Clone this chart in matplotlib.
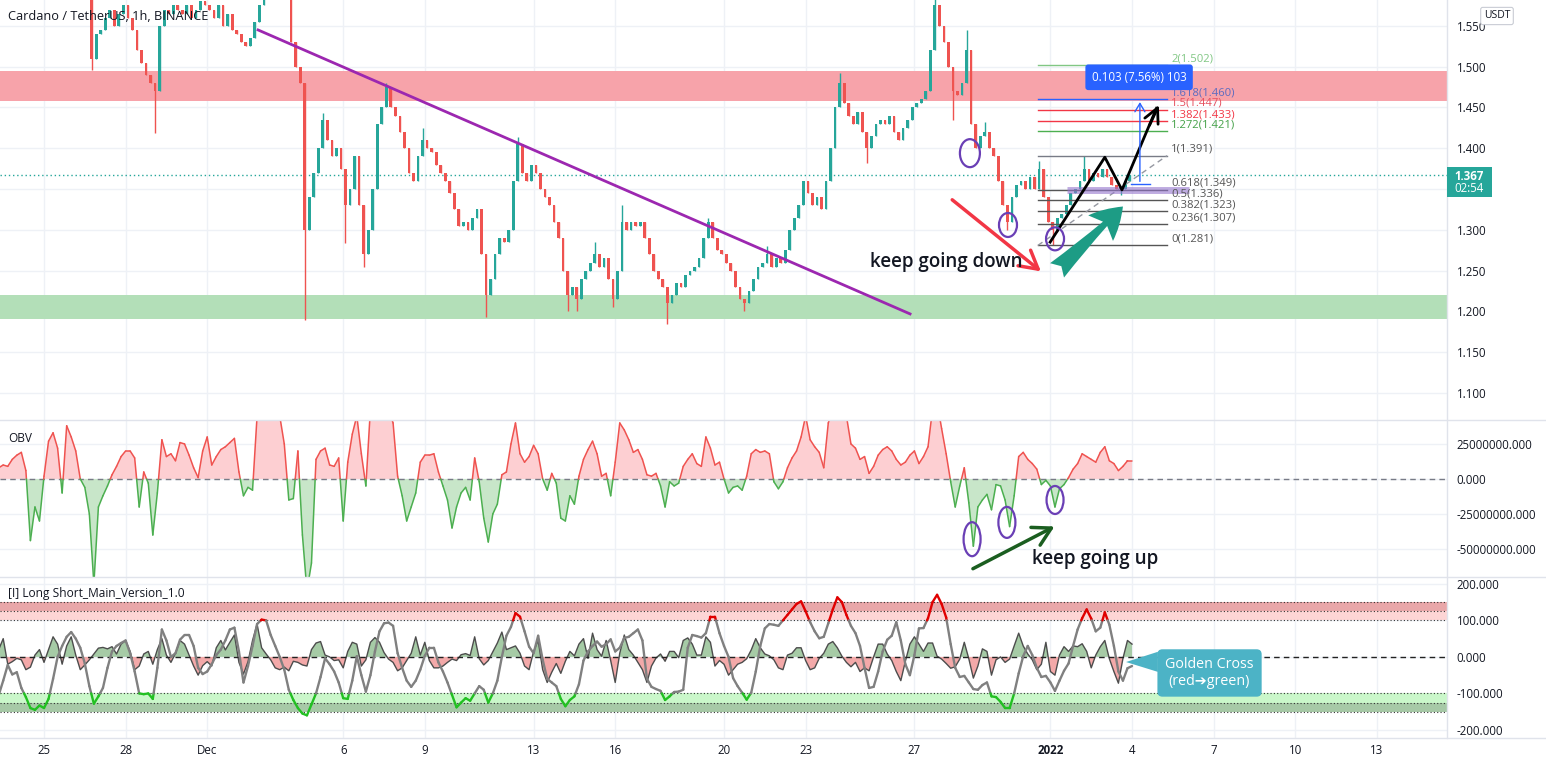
import numpy as np
import matplotlib.pyplot as plt
from matplotlib.patches import Ellipse, Polygon, Rectangle
from matplotlib.collections import LineCollection
from matplotlib.lines import Line2D

plt.rcParams['font.family'] = ['Open Sans', 'DejaVu Sans']

### Data (4h steps, one row per day, first row = Nov 23, day 0 = Nov 25)
closes = [
    1.62, 1.63, 1.64, 1.62, 1.63, 1.65,
    1.64, 1.63, 1.62, 1.61, 1.60, 1.62,
    1.63, 1.65, 1.66, 1.64, 1.66, 1.67,
    1.66, 1.65, 1.63, 1.60, 1.51, 1.54,
    1.545, 1.56, 1.57, 1.55, 1.565, 1.575,
    1.56, 1.545, 1.52, 1.505, 1.49, 1.48,
    1.47, 1.55, 1.57, 1.565, 1.575, 1.57,
    1.565, 1.575, 1.56, 1.57, 1.58, 1.575,
    1.57, 1.56, 1.575, 1.55, 1.565, 1.545,
    1.54, 1.53, 1.525, 1.535, 1.555, 1.575,
    1.59, 1.60, 1.61, 1.60, 1.59, 1.585,
    1.53, 1.50, 1.48, 1.30, 1.34, 1.37,
    1.40, 1.435, 1.41, 1.39, 1.40, 1.375,
    1.33, 1.35, 1.39, 1.33, 1.27, 1.30,
    1.35, 1.43, 1.45, 1.475, 1.45, 1.44,
    1.42, 1.40, 1.37, 1.36, 1.39, 1.41,
    1.40, 1.395, 1.38, 1.37, 1.36, 1.345,
    1.325, 1.305, 1.31, 1.30, 1.315, 1.325,
    1.27, 1.22, 1.24, 1.27, 1.29, 1.285,
    1.30, 1.36, 1.405, 1.37, 1.36, 1.38,
    1.37, 1.35, 1.34, 1.33, 1.31, 1.29,
    1.25, 1.22, 1.23, 1.215, 1.24, 1.25,
    1.26, 1.27, 1.255, 1.265, 1.24, 1.215,
    1.25, 1.31, 1.30, 1.31, 1.305, 1.31,
    1.29, 1.27, 1.25, 1.24, 1.23, 1.21,
    1.22, 1.235, 1.23, 1.245, 1.25, 1.255,
    1.265, 1.29, 1.31, 1.29, 1.275, 1.27,
    1.26, 1.25, 1.23, 1.215, 1.21, 1.225,
    1.24, 1.255, 1.26, 1.27, 1.255, 1.265,
    1.26, 1.275, 1.30, 1.315, 1.33, 1.36,
    1.345, 1.33, 1.34, 1.325, 1.36, 1.40,
    1.45, 1.48, 1.455, 1.44, 1.43, 1.445,
    1.42, 1.40, 1.415, 1.43, 1.435, 1.43,
    1.44, 1.42, 1.41, 1.425, 1.435, 1.45,
    1.455, 1.46, 1.47, 1.52, 1.575, 1.55,
    1.53, 1.50, 1.47, 1.465, 1.48, 1.52,
    1.43, 1.40, 1.415, 1.42, 1.40, 1.39,
    1.36, 1.33, 1.31, 1.34, 1.355, 1.36,
    1.35, 1.365, 1.35, 1.375, 1.34, 1.31,
    1.30, 1.315, 1.32, 1.33, 1.345, 1.35,
    1.36, 1.375, 1.36, 1.37, 1.365, 1.375,
    1.365, 1.355, 1.35, 1.35, 1.36, 1.367,
]
# long wicks (candle index -> price)
wick_highs = {66: 1.59, 73: 1.443, 87: 1.48, 95: 1.425, 116: 1.414, 133: 1.285,
              139: 1.33, 158: 1.315, 171: 1.28, 187: 1.492, 208: 1.59, 215: 1.545,
              219: 1.432, 231: 1.385, 241: 1.391}
wick_lows = {22: 1.496, 36: 1.419, 69: 1.19, 78: 1.284, 82: 1.255, 109: 1.193,
             127: 1.20, 129: 1.20, 137: 1.205, 149: 1.185, 166: 1.20, 193: 1.382,
             212: 1.435, 224: 1.30, 234: 1.281, 249: 1.343}

# OBV oscillator, millions
obv_m = [
    5, 8, 10, 9, 14, 17,
    19, 6, -44, -20, -30, 2,
    27, 33, 22, -10, 38, 30,
    20, 0, -6, -25, -75, -20,
    -12, -5, 3, 9, 16, 20,
    20, 15, -20, 5, -3, -40,
    -10, 28, 16, 18, 13, 26,
    25, 17, 8, 1, 20, 30,
    10, 16, 21, 23, 26, 29,
    5, -12, -6, -8, 45, 50,
    55, 55, 50, 45, 25, -15,
    -14, 20, -40, -80, -60, 14,
    20, 22, 10, 9, 15, -30,
    12, 32, 45, 18, -5, 50,
    55, 60, 55, 50, 40, 2,
    -12, -30, -20, -10, 12, 17,
    17, 18, 5, -5, -15, -35,
    -20, -10, -6, -15, 15, -2,
    -28, -45, -25, -18, 3, 5,
    25, 40, 18, 12, 16, 24,
    18, 0, -8, 4, -3, -28,
    -30, -12, -18, 2, 14, 21,
    27, 18, 2, 4, -12, 12,
    40, 35, 28, 19, 21, 14,
    3, 2, 4, -5, -20, -2,
    -5, -3, 9, 14, 18, 11,
    9, 30, 22, 10, 12, 0,
    -10, -6, -5, -8, 2, 18,
    21, 19, 20, 18, -2, -7,
    -2, 8, 15, 20, 30, 45,
    28, 23, 19, 8, 40, 50,
    55, 55, 45, 25, 22, 14,
    16, 4, 9, 17, 21, 23,
    20, 14, 10, 12, 17, 20,
    11, 16, 23, 50, 55, 36,
    18, -2, -20, -5, 8, -17,
    -48, -20, -15, -11, -22, -4,
    -5, -15, -34, -12, 16, 19,
    14, 11, 7, -4, -1, -5,
    -20, -7, -4, 1, 7, 11,
    18, 16, 14, 12, 19, 23,
    13, 11, 6, 9, 13, 13,
]

# Long Short indicator: histogram area and oscillator line
ls_hist = [
    10, 20, 50, -20, -13, -4,
    -8, -35, -28, 5, 20, -15,
    20, 55, 35, -20, 30, 55,
    5, -35, -22, -8, 8, 24,
    26, 22, 28, 8, 35, 45,
    15, -35, -25, 8, 15, -20,
    20, 50, 5, -15, 10, 45,
    35, 5, -25, -50, -24, -13,
    -25, 25, 45, 19, 40, 60,
    -15, -47, -13, 45, 90, 25,
    8, -8, -30, -35, -28, -38,
    -12, -15, -22, -25, 20, 38,
    42, 5, 0, -10, -8, -30,
    15, 40, 35, -25, -8, 40,
    53, 40, 12, -6, -15, -38,
    -30, -10, 10, 55, 5, 40,
    -10, -30, -30, -25, -15, -6,
    -10, 6, 9, 4, 55, -5,
    -22, -10, 14, 38, 68, 20,
    25, 30, 10, -25, -35, 15,
    45, -35, -70, -42, -18, -45,
    -12, 15, 3, 35, 50, -4,
    65, 20, 2, 45, -10, -70,
    10, 60, 20, 5, -15, -35,
    -70, -25, -3, 8, -12, 15,
    15, -2, 45, 52, 35, 5,
    5, 55, 40, -25, -10, -20,
    -50, -35, -20, -15, -5, 19,
    50, 25, 8, 3, -8, -30,
    -35, 5, 10, 25, 25, -10,
    -35, -30, -4, 10, 35, 42,
    25, 2, -15, -27, -15, -40,
    -30, -38, 0, 35, 35, 8,
    -10, -40, -65, -12, 35, 55,
    35, 15, 38, 38, 2, -6,
    -18, -31, -27, -6, 40, -5,
    -58, -25, 22, 15, -50, -8,
    0, -15, -6, 30, 65, 30,
    8, -8, -35, -20, 40, -40,
    -50, 5, 28, 15, 30, 28,
    36, 15, -30, 5, 28, 45,
    -5, -40, -72, -4, 45, 35,
]
ls_osc = [
    -115, -105, -65, -22, -48, -42,
    -85, -110, -140, -145, -133, -140,
    -115, -60, 0, 30, 55, 68,
    50, 25, -18, -80, -128, -108,
    -85, -30, 15, 30, 38, 45,
    10, -40, -100, -102, -100, -115,
    -30, 75, 45, 0, 10, 47,
    60, 60, 30, -30, -47, -40,
    -20, 5, 20, 45, 75, 80,
    15, -70, -25, 30, 90, 102,
    100, 60, 30, 0, -35, -90,
    -118, -140, -155, -160, -130, -100,
    -55, -4, -20, -40, -70, -113,
    -115, -65, 2, -50, -95, -50,
    15, 70, 92, 94, 85, 10,
    -30, -65, -82, -65, -35, 3,
    25, 25, -15, -40, -70, -104,
    -138, -125, -113, -120, -100, -80,
    -90, -125, -100, -65, 0, 58,
    82, 120, 110, 70, 28, 10,
    58, -8, -60, -70, -80, -115,
    -135, -118, -108, -75, -10, 15,
    30, 42, 28, 35, 48, 15,
    25, 52, 55, 65, 75, 45,
    -60, -82, -88, -93, -118, -108,
    -96, -95, -90, 25, 60, 57,
    53, 65, 110, 110, 65, 30,
    0, -58, -80, -98, -117, -98,
    -40, 30, 78, 90, 88, 85,
    100, 115, 130, 145, 152, 125,
    95, 70, 51, 55, 92, 130,
    163, 150, 115, 85, 65, 30,
    -30, -85, -82, -40, 15, 47,
    58, 95, 45, -20, -50, 5,
    78, 79, 106, 150, 170, 145,
    108, 35, -30, -55, -52, -70,
    -88, -90, -77, -70, -108, -110,
    -123, -140, -140, -100, -45, 2,
    30, 5, -30, -55, -52, -70,
    -93, -65, -38, -18, 30, 75,
    106, 130, 105, 70, 80, 122,
    88, 30, -40, -65, -31, -25,
]

tick_days = [0, 3, 6, 11, 14, 18, 21, 25, 28, 32, 37, 40, 43, 46, 49]
tick_labels = ['25', '28', 'Dec', '6', '9', '13', '16', '20', '23', '27', '2022', '4', '7', '10', '13']
price_ticks = [1.10, 1.15, 1.20, 1.25, 1.30, 1.35, 1.40, 1.45, 1.50, 1.55]
obv_ticks = [-50e6, -25e6, 0, 25e6]
ls_ticks = [-200, -100, 0, 100, 200]

fib_names = ['2', '1.618', '1.5', '1.382', '1.272', '1', '0.618', '0.5', '0.382', '0.236', '0']
fib_prices = [1.502, 1.460, 1.447, 1.433, 1.421, 1.391, 1.349, 1.336, 1.323, 1.307, 1.281]
fib_colors = ['#81c784', '#2962ff', '#f23645', '#f23645', '#4caf50', '#787b86',
              '#555555', '#555555', '#555555', '#555555', '#555555']
fib_text_colors = ['#81c784', '#5c6bc0', '#e5505f', '#f23645', '#43a047', '#555555',
                   '#555555', '#555555', '#555555', '#555555', '#555555']
last_price = 1.367

### Figure layout (pixel boxes)
W, H = 1546, 760
fig = plt.figure(figsize=(W / 100, H / 100), dpi=100)
fig.patch.set_facecolor('white')


def pix_axes(x0, y0, x1, y1):
    return fig.add_axes([x0 / W, 1 - y1 / H, (x1 - x0) / W, (y1 - y0) / H])


ax = pix_axes(0, 0, 1447, 420)
ax_obv = pix_axes(0, 421, 1447, 577)
ax_ls = pix_axes(0, 578, 1447, 738)

for a in (ax, ax_obv, ax_ls):
    a.set_xlim(-1.618, 51.58)
    for s in a.spines.values():
        s.set_visible(False)
    a.yaxis.tick_right()
    a.tick_params(axis='y', length=0, pad=7, labelsize=8.3, labelcolor='#131722')
    a.tick_params(axis='x', length=0, labelsize=8.3, labelcolor='#131722', pad=4)
    a.set_xticks(tick_days)
    a.grid(True, color='#eef1f6', lw=1)
    a.set_axisbelow(True)
ax.set_xticklabels([])
ax_obv.set_xticklabels([])
ax_ls.set_xticklabels(tick_labels)
for lab in ax_ls.get_xticklabels():
    if lab.get_text() == '2022':
        lab.set_fontweight('bold')

for y in (420, 577, 738):
    fig.add_artist(Line2D([0, 1], [1 - y / H] * 2, transform=fig.transFigure, color='#e0e3eb', lw=1))
fig.add_artist(Line2D([1447 / W] * 2, [1 - 738 / H, 1], transform=fig.transFigure, color='#e0e3eb', lw=1))


def refine(t, v, levels):
    # insert the points where the series crosses each level
    rt, rv = [t[0]], [v[0]]
    for i in range(1, len(t)):
        a, b = v[i - 1], v[i]
        cuts = sorted(t[i - 1] + (L - a) / (b - a) * (t[i] - t[i - 1])
                      for L in levels if (a - L) * (b - L) < 0)
        for c in cuts:
            rt.append(c)
            rv.append(a + (b - a) * (c - t[i - 1]) / (t[i] - t[i - 1]))
        rt.append(t[i])
        rv.append(b)
    return np.array(rt), np.array(rv)


def colored_line(axis, t, v, levels, pick, lw, z=4):
    rt, rv = refine(t, v, levels)
    segs = np.stack([np.column_stack([rt[:-1], rv[:-1]]),
                     np.column_stack([rt[1:], rv[1:]])], axis=1)
    mids = (rv[:-1] + rv[1:]) / 2
    axis.add_collection(LineCollection(segs, colors=[pick(m) for m in mids],
                                       linewidths=lw, zorder=z, capstyle='round'))


### Price panel
n = len(closes)
t_open = -2 + np.arange(n) / 6
xc = t_open + 1 / 12
c = np.array(closes)
o = np.array([closes[0]] + closes[:-1])
body_lo = np.minimum(o, c)
body_h = np.maximum(np.abs(c - o), 0.0013)
hi = np.maximum(o, c)
lo = body_lo.copy()
for i, v in wick_highs.items():
    hi[i] = v
for i, v in wick_lows.items():
    lo[i] = v
cols = np.where(c >= o, '#26a69a', '#ef5350')

ax.axhspan(1.458, 1.4947, color='#f7a3aa', lw=0, zorder=1)
ax.axhspan(1.1908, 1.2202, color='#b3dfb8', lw=0, zorder=1)
ax.vlines(xc, lo, hi, colors=cols, lw=1, zorder=3)
ax.bar(xc, body_h, bottom=body_lo, width=0.1, color=cols, lw=0, zorder=3)
ax.axhline(last_price, color='#26a69a', lw=1, ls=(0, (1, 2)), zorder=2)
ax.set_ylim(1.067, 1.5817)
ax.set_yticks(price_ticks)
ax.set_yticklabels([f'{p:.3f}' for p in price_ticks])

# trendline
ax.plot([7.87, 31.84], [1.545, 1.197], color='#9c27b0', lw=2, zorder=5)

# fib extension
fx0, fx1 = 36.54, 41.29
for name, p, fc, tc in zip(fib_names, fib_prices, fib_colors, fib_text_colors):
    ax.plot([fx0, fx1], [p, p], color=fc, lw=1, zorder=4)
    ax.text(fx1 + 0.15, p + 0.0012, f'{name}({p:.3f})', color=tc, fontsize=8.1,
            ha='left', va='bottom', zorder=6)
ax.plot([fx0, fx1], [1.281, 1.391], color='#9598a1', lw=1, ls=(0, (4, 3)), zorder=4)
ax.plot([37.6, 42.1], [1.349, 1.349], color='#9575cd', alpha=0.6, lw=5,
        solid_capstyle='butt', zorder=4)

# projected zigzag
ax.plot([36.99, 39.0, 39.63, 40.9], [1.285, 1.389, 1.349, 1.449], color='black', lw=2, zorder=6)
ax.annotate('', xy=(41.03, 1.456), xytext=(40.6, 1.425),
            arrowprops=dict(arrowstyle='->,head_length=0.7,head_width=0.35', color='black',
                            lw=2, mutation_scale=15), zorder=6)

# measurement
ax.annotate('', xy=(40.29, 1.460), xytext=(40.29, 1.356),
            arrowprops=dict(arrowstyle='->,head_length=0.5,head_width=0.3', color='#2962ff',
                            lw=1, mutation_scale=12), zorder=6)
ax.plot([39.96, 40.66], [1.356, 1.356], color='#2962ff', lw=1, zorder=6)
ax.text(40.26, 1.487, '0.103 (7.56%) 103', ha='center', va='center', color='white',
        fontsize=8.3, zorder=7,
        bbox=dict(boxstyle='round,pad=0.55,rounding_size=0.25', fc='#2962ff', ec='none'))

# circles and arrows
for (d, p, w, h) in [(34.04, 1.394, 20, 28), (35.44, 1.306, 18, 24), (37.17, 1.289, 18, 23)]:
    ax.add_patch(Ellipse((d, p), w / 27.2, h / 816, fill=False, ec='#6a3fb5', lw=1.6, zorder=6))
ax.annotate('', xy=(36.73, 1.247), xytext=(33.31, 1.339),
            arrowprops=dict(arrowstyle='->,head_length=0.8,head_width=0.45', color='#f23645',
                            lw=2.5, mutation_scale=16), zorder=6)
ax.text(30.37, 1.2607, 'keep going down', fontsize=13.5, fontweight='semibold',
        color='#131722', ha='left', va='center', zorder=7)
ax.annotate('', xy=(39.74, 1.331), xytext=(37.17, 1.248),
            arrowprops=dict(arrowstyle='fancy,head_length=0.7,head_width=0.8,tail_width=0.45',
                            fc='#1d9c85', ec='none', mutation_scale=32), zorder=6)

### OBV panel
t_ind = t_open + 1 / 6
obv = np.array(obv_m) * 1e6
ax_obv.fill_between(t_ind, obv, 0, where=obv >= 0, interpolate=True, color='#fdcfd2', lw=0, zorder=2)
ax_obv.fill_between(t_ind, obv, 0, where=obv <= 0, interpolate=True, color='#c8e6c9', lw=0, zorder=2)
colored_line(ax_obv, t_ind, obv, [0], lambda m: '#ef5350' if m > 0 else '#4caf50', 1.1)
ax_obv.axhline(0, color='#787b86', lw=1, ls=(0, (4, 3)), zorder=3)
ax_obv.set_ylim(-70e6, 41.4e6)
ax_obv.set_yticks(obv_ticks)
ax_obv.set_yticklabels([f'{v:.3f}' for v in obv_ticks])
for (d, v, w, h) in [(34.12, -43e6, 17, 34), (35.40, -31e6, 17, 31), (37.17, -15e6, 17, 28)]:
    ax_obv.add_patch(Ellipse((d, v), w / 27.2, h * 25e6 / 35, fill=False, ec='#6a3fb5', lw=1.6, zorder=6))
ax_obv.annotate('', xy=(37.24, -33e6), xytext=(34.06, -65e6),
                arrowprops=dict(arrowstyle='->,head_length=0.8,head_width=0.45', color='#1b5e20',
                                lw=2.5, mutation_scale=16), zorder=6, annotation_clip=False)
ax_obv.text(36.32, -57.5e6, 'keep going up', fontsize=13.5, fontweight='semibold',
            color='#131722', ha='left', va='center', zorder=7)

### Long Short panel
ax_ls.axhspan(125, 150, color='#e9a7a9', lw=0, zorder=1)
ax_ls.axhspan(100, 125, color='#fdd5d5', lw=0, zorder=1)
ax_ls.axhspan(-125, -100, color='#caf7ca', lw=0, zorder=1)
ax_ls.axhspan(-150, -125, color='#a7c9a7', lw=0, zorder=1)
for lvl in (150, 125, 100, -100, -125, -150):
    ax_ls.axhline(lvl, color='#333333', lw=0.8, ls=(0, (1, 2)), zorder=2)
hist = np.array(ls_hist, dtype=float)
osc = np.array(ls_osc, dtype=float)
ax_ls.fill_between(t_ind, hist, 0, where=hist >= 0, interpolate=True, color='#a6cba6', lw=0, zorder=3)
ax_ls.fill_between(t_ind, hist, 0, where=hist <= 0, interpolate=True, color='#f3a9a9', lw=0, zorder=3)
ax_ls.plot(t_ind, hist, color='#4d4d4d', lw=1, zorder=4)
ax_ls.axhline(0, color='#222222', lw=1, ls=(0, (4, 3)), zorder=4)
colored_line(ax_ls, t_ind, osc, [100, -100],
             lambda m: '#e00000' if m > 100 else ('#22c022' if m < -100 else '#808080'), 1.7, z=5)
ax_ls.set_ylim(-222, 216)
ax_ls.set_yticks(ls_ticks)
ax_ls.set_yticklabels([f'{v:.3f}' for v in ls_ticks])

# callout
ax_ls.add_patch(Polygon([(39.78, -14), (40.95, 14), (40.95, -41)], closed=True,
                        fc='#4cb3c6', ec='none', zorder=6))
ax_ls.text(42.85, -44, 'Golden Cross\n(red\u2794green)', ha='center', va='center', color='white',
           fontsize=10.3, linespacing=1.15, zorder=7,
           bbox=dict(boxstyle='round,pad=0.55,rounding_size=0.35', fc='#4cb3c6', ec='none'))

### Labels
fig.text(8 / W, 1 - 16 / H, 'Cardano / TetherUS, 1h, BINANCE', fontsize=9.2, color='#131722', va='center')
fig.text(8 / W, 1 - 438 / H, 'OBV', fontsize=8.6, color='#131722', va='center')
fig.text(8 / W, 1 - 593 / H, '[I] Long Short_Main_Version_1.0', fontsize=8.6, color='#131722', va='center')
fig.text(1497 / W, 1 - 16 / H, 'USDT', fontsize=7.5, color='#131722', ha='center', va='center',
         bbox=dict(boxstyle='round,pad=0.3,rounding_size=0.2', fc='white', ec='#c9ccd4', lw=0.8))
fig.add_artist(Rectangle((1447 / W, 1 - 197 / H), 45 / W, 30 / H, transform=fig.transFigure,
                         fc='#26a69a', ec='none', zorder=5))
fig.text(1469 / W, 1 - 176 / H, f'{last_price:.3f}', fontsize=8.3, fontweight='bold', color='white',
         ha='center', va='center', zorder=6)
fig.text(1469 / W, 1 - 189 / H, '02:54', fontsize=8.3, color='white', ha='center', va='center', zorder=6)

fig.savefig('out.png', dpi=100)
